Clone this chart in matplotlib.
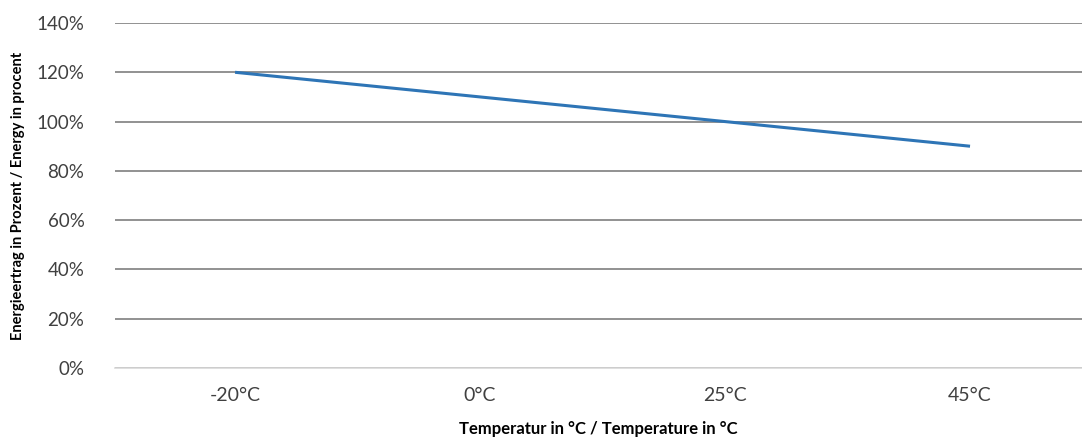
import matplotlib
matplotlib.use("Agg")
import matplotlib.pyplot as plt
from matplotlib.ticker import FuncFormatter

categories = ["-20°C", "0°C", "25°C", "45°C"]
values = [120, 110, 100, 90]
yticks = [0, 20, 40, 60, 80, 100, 120, 140]

plt.rcParams['font.family'] = ['Lato', 'DejaVu Sans']

fig = plt.figure(figsize=(10.82, 4.41), dpi=100)
ax = fig.add_axes([115/1082, 1-368/441, (1082-115)/1082, (368-23)/441])

x = list(range(len(categories)))
ax.plot(x, values, color="#2E75B6", linewidth=2.2, solid_capstyle='butt')

ax.set_xlim(-0.49, 3.457)
ax.set_ylim(0, 140)
ax.set_yticks(yticks)
ax.yaxis.set_major_formatter(FuncFormatter(lambda v, p: f"{int(v)}%"))
ax.set_xticks(x)
ax.set_xticklabels(categories)
ax.grid(axis='y', color="#7f7f7f", linewidth=1.2)
ax.set_axisbelow(True)
for s in ["top", "right", "left"]:
    ax.spines[s].set_visible(False)
ax.spines["bottom"].set_color("#d9d9d9")
ax.spines["bottom"].set_linewidth(1.2)
ax.tick_params(axis='y', length=0, labelsize=13.5, colors="#404040", pad=22)
ax.tick_params(axis='x', length=0, labelsize=14, colors="#404040", pad=14)

ax.set_ylabel("Energieertrag in Prozent / Energy in procent", fontsize=10.5, fontweight='bold', labelpad=8)
ax.set_xlabel("Temperatur in °C / Temperature in °C", fontsize=12, fontweight='bold', labelpad=12)

fig.savefig("out.png", dpi=100)
